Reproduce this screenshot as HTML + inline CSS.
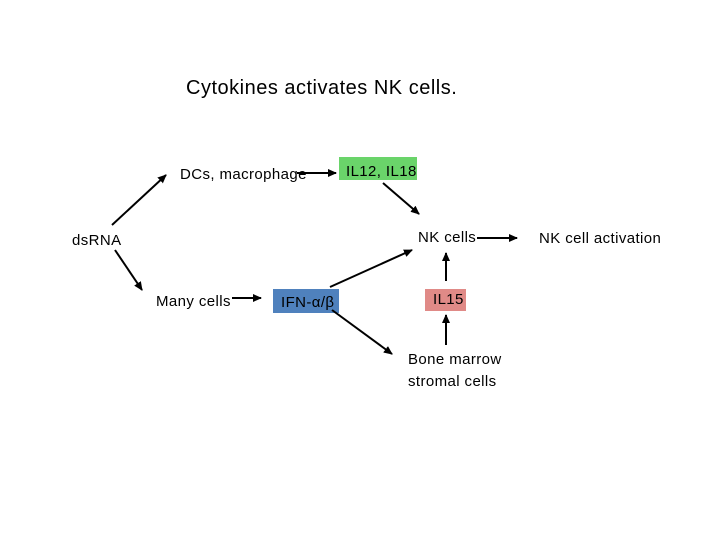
<!DOCTYPE html>
<html><head><meta charset="utf-8"><style>
body{margin:0;width:720px;height:540px;background:#fff;position:relative;overflow:hidden;font-family:"Liberation Sans",sans-serif;color:#000}
.t{position:absolute;font-size:15px;letter-spacing:0.4px;line-height:16px;white-space:nowrap}
.b{position:absolute}
</style></head><body>
<div class="t" style="left:186px;top:77px;font-size:20px;letter-spacing:0.5px;line-height:22px">Cytokines activates NK cells.</div>
<div class="b" style="left:339px;top:157px;width:78px;height:23px;background:#6ad46a"></div>
<div class="b" style="left:273px;top:289px;width:66px;height:24px;background:#4f81bd"></div>
<div class="b" style="left:425px;top:289px;width:41px;height:22px;background:#e08a87"></div>
<div class="t" style="left:180px;top:167px">DCs, macrophage</div>
<div class="t" style="left:346px;top:164px">IL12, IL18</div>
<div class="t" style="left:72px;top:233px">dsRNA</div>
<div class="t" style="left:418px;top:230px">NK cells</div>
<div class="t" style="left:539px;top:231px">NK cell activation</div>
<div class="t" style="left:156px;top:294px">Many cells</div>
<div class="t" style="left:281px;top:295px">IFN-α/β</div>
<div class="t" style="left:433px;top:292px">IL15</div>
<div class="t" style="left:408px;top:352px">Bone marrow</div>
<div class="t" style="left:408px;top:374px">stromal cells</div>
<svg width="720" height="540" style="position:absolute;left:0;top:0">
<defs><marker id="a" markerWidth="10" markerHeight="10" refX="8" refY="4" orient="auto" markerUnits="userSpaceOnUse"><path d="M0,0 L9,4 L0,8z" fill="#000"/></marker></defs>
<g stroke="#000" stroke-width="2" marker-end="url(#a)">
<line x1="112" y1="225" x2="166" y2="175"/>
<line x1="115" y1="250" x2="142" y2="290"/>
<line x1="297" y1="173" x2="336" y2="173"/>
<line x1="383" y1="183" x2="419" y2="214"/>
<line x1="232" y1="298" x2="261" y2="298"/>
<line x1="330" y1="287" x2="412" y2="250"/>
<line x1="332" y1="310" x2="392" y2="354"/>
<line x1="446" y1="281" x2="446" y2="253"/>
<line x1="446" y1="345" x2="446" y2="315"/>
<line x1="477" y1="238" x2="517" y2="238"/>
</g></svg>
</body></html>
